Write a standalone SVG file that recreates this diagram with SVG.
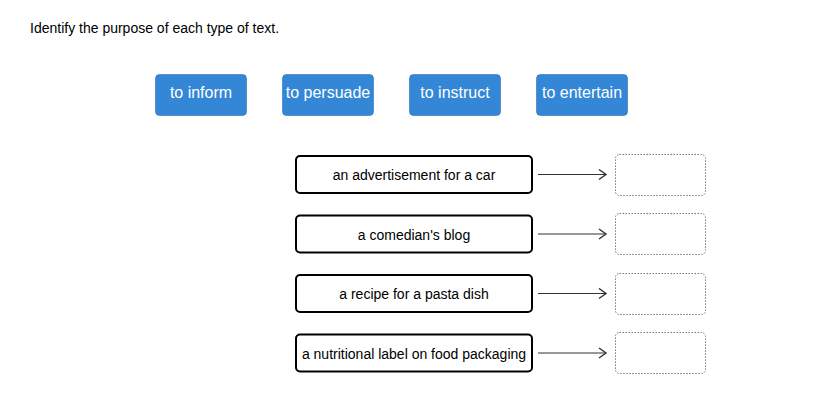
<svg xmlns="http://www.w3.org/2000/svg" width="814" height="412" viewBox="0 0 814 412">
<style>
.t{font-family:"Liberation Sans",Arial,sans-serif}
.btn rect{fill:#3387d6;stroke:#2a6fb3;stroke-width:0.6}
.btn text{fill:#fff;font-size:16px;text-anchor:middle}
.item rect{fill:#fff;stroke:#000;stroke-width:2}
.item text{fill:#000;font-size:14px;text-anchor:middle}
.drop rect{fill:#fff;stroke:#777;stroke-width:1;stroke-dasharray:1.5 1.5}
.conn line{stroke:#333;stroke-width:1.2}
</style>
<defs>
<marker id="ah" markerWidth="10" markerHeight="12" refX="8" refY="6" orient="auto" markerUnits="userSpaceOnUse">
<path d="M1,1 L8,6 L1,11" fill="none" stroke="#333" stroke-width="1.4"/>
</marker>
</defs>
<rect width="814" height="412" fill="#fff"/>
<text class="t" x="30" y="33" font-size="14" fill="#000">Identify the purpose of each type of text.</text>
<g id="btn-inform" class="btn t"><rect x="155.5" y="74.5" width="91" height="41" rx="4"/><text x="201" y="98">to inform</text></g>
<g id="btn-persuade" class="btn t"><rect x="282.5" y="74.5" width="91" height="41" rx="4"/><text x="328" y="98">to persuade</text></g>
<g id="btn-instruct" class="btn t"><rect x="409.5" y="74.5" width="91" height="41" rx="4"/><text x="455" y="98">to instruct</text></g>
<g id="btn-entertain" class="btn t"><rect x="536.5" y="74.5" width="91" height="41" rx="4"/><text x="582" y="98">to entertain</text></g>
<g id="item1" class="item t"><rect x="296" y="156" width="236" height="37" rx="4"/><text x="414" y="180">an advertisement for a car</text></g>
<g id="item2" class="item t"><rect x="296" y="215.5" width="236" height="37" rx="4"/><text x="414" y="239.5">a comedian's blog</text></g>
<g id="item3" class="item t"><rect x="296" y="275" width="236" height="37" rx="4"/><text x="414" y="299">a recipe for a pasta dish</text></g>
<g id="item4" class="item t"><rect x="296" y="334.5" width="236" height="37" rx="4"/><text x="414" y="358.5">a nutritional label on food packaging</text></g>
<g id="drop1" class="drop"><rect x="615.5" y="154.5" width="90" height="41" rx="4"/></g>
<g id="drop2" class="drop"><rect x="615.5" y="213.5" width="90" height="41" rx="4"/></g>
<g id="drop3" class="drop"><rect x="615.5" y="273.5" width="90" height="41" rx="4"/></g>
<g id="drop4" class="drop"><rect x="615.5" y="332.5" width="90" height="41" rx="4"/></g>
<g id="connectors" class="conn">
<line x1="538" y1="174.5" x2="606" y2="174.5" marker-end="url(#ah)"/>
<line x1="538" y1="234" x2="606" y2="234" marker-end="url(#ah)"/>
<line x1="538" y1="293.5" x2="606" y2="293.5" marker-end="url(#ah)"/>
<line x1="538" y1="353" x2="606" y2="353" marker-end="url(#ah)"/>
</g>
</svg>
